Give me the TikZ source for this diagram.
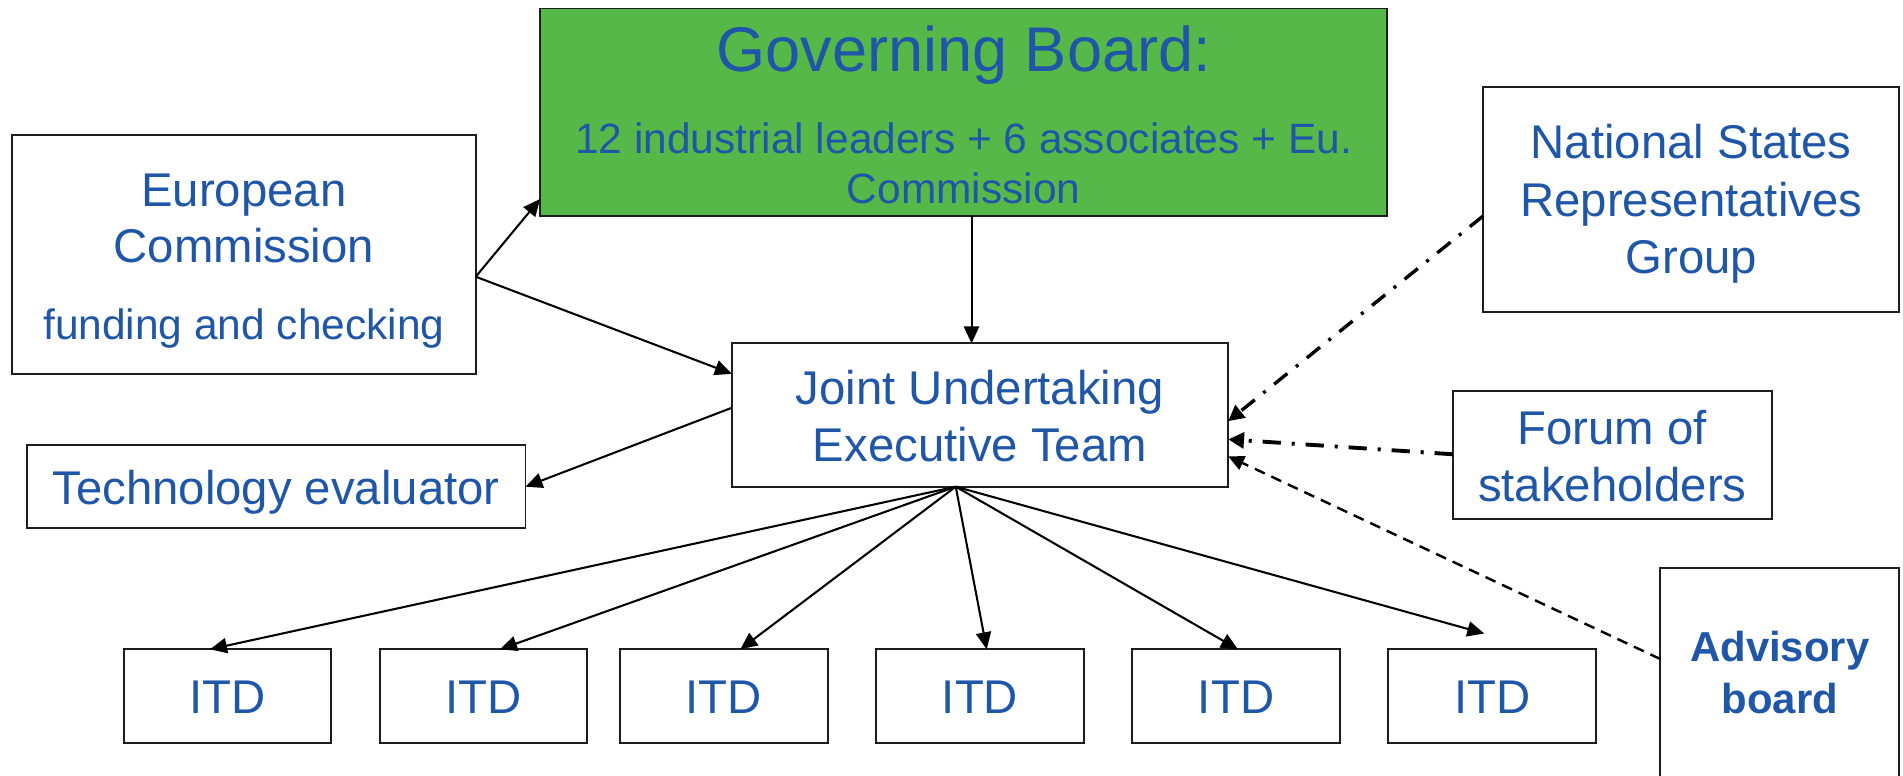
\documentclass[tikz,border=0pt]{standalone}
\usepackage{fontspec}
\setmainfont{Liberation Sans}
\usetikzlibrary{arrows.meta}
\definecolor{tblue}{RGB}{31,86,168}
\definecolor{gbgreen}{RGB}{86,184,72}
\definecolor{edgec}{RGB}{30,30,30}
\tikzset{
  box/.style={draw=edgec, line width=1.6pt, inner sep=0pt, outer sep=0pt},
  tA/.style={text=tblue, font=\fontsize{39}{47}\selectfont, anchor=base, inner sep=0pt},
  tB/.style={text=tblue, font=\fontsize{35}{42}\selectfont, anchor=base, inner sep=0pt},
  tC/.style={text=tblue, font=\fontsize{52}{62}\selectfont, anchor=base, inner sep=0pt},
  tD/.style={text=tblue, font=\fontsize{34.5}{42}\selectfont\bfseries, anchor=base, inner sep=0pt},
  conn/.style={draw=black, line width=1.7pt, -{Triangle[length=14pt,width=12.5pt]}},
  dashdotA/.style={draw=black, line width=2.8pt, dash pattern=on 14pt off 9pt on 2.5pt off 9pt, -{Triangle[length=13pt,width=13pt]}},
  dashdotB/.style={draw=black, line width=3.2pt, dash pattern=on 15pt off 9pt on 2.5pt off 9pt, -{Triangle[length=13pt,width=13pt]}},
  dashedC/.style={draw=black, line width=2pt, dash pattern=on 9pt off 6pt, -{Triangle[length=13pt,width=12pt]}},
}
\begin{document}
\begin{tikzpicture}[x=1pt,y=-1pt]
\useasboundingbox (0,0) rectangle (1568,638.6);
% boxes
\node[box, fill=gbgreen, minimum width=698pt, minimum height=171pt] (gb) at (794,92.5) {};
\node[box, minimum width=382pt, minimum height=197pt] (ec) at (201,209.5) {};
\node[box, minimum width=343pt, minimum height=185pt] (nsrg) at (1393.5,164.5) {};
\node[box, minimum width=409pt, minimum height=118pt] (ju) at (807.5,342) {};
\node[box, minimum width=263pt, minimum height=106pt] (forum) at (1328.5,375) {};
\node[box, minimum width=411pt, minimum height=68pt] (tech) at (227.5,401) {};
\node[box, minimum width=197pt, minimum height=232pt] (adv) at (1466.5,584) {};
\foreach \i/\x in {1/187.5,2/398.5,3/596.5,4/807.5,5/1018.5,6/1229.5}{
  \node[box, minimum width=171pt, minimum height=77pt] (itd\i) at (\x,573.5) {};
  \node[tA] (itdt\i) at (\x,588) {ITD};
}
% texts
\node[tC] (gbt1) at (794,59) {Governing Board:};
\node[tB] (gbt2) at (794,126.7) {12 industrial leaders + 6 associates + Eu.};
\node[tB] (gbt3) at (794,168) {Commission};
\node[tA] (ect1) at (201,170) {European};
\node[tA] (ect2) at (201,216) {Commission};
\node[tB] (ect3) at (201,280) {funding and checking};
\node[tA] (nst1) at (1393.5,131) {National States};
\node[tA] (nst2) at (1393.5,178) {Representatives};
\node[tA] (nst3) at (1393.5,225) {Group};
\node[tA] (fot1) at (1328.5,366) {Forum of};
\node[tA] (fot2) at (1328.5,413) {stakeholders};
\node[tA] (jut1) at (807.5,333) {Joint Undertaking};
\node[tA] (jut2) at (807.5,380) {Executive Team};
\node[tA] (tet1) at (227.5,416) {Technology evaluator};
\node[tD] (adt1) at (1466.5,545) {Advisory};
\node[tD] (adt2) at (1466.5,587.5) {board};
% connectors
\coordinate (ecout) at ([yshift=-18.5pt]ec.east);
\draw[conn] (ecout) -- ([yshift=-71.5pt]gb.west);
\draw[conn] (ecout) -- ([yshift=34pt]ju.west);
\draw[conn] ([xshift=6.5pt]gb.south) -- ([xshift=-7pt]ju.north);
\draw[conn] ([yshift=6pt]ju.west) -- (tech.east);
\coordinate (fan) at ([xshift=-20pt]ju.south);
\draw[conn] (fan) -- ([xshift=-14.5pt]itd1.north);
\draw[conn] (fan) -- ([xshift=13.5pt]itd2.north);
\draw[conn] (fan) -- ([xshift=13.5pt]itd3.north);
\draw[conn] (fan) -- ([xshift=5.5pt]itd4.north);
\draw[conn] (fan) -- ([xshift=1.5pt]itd5.north);
\coordinate (itd6end) at ([xshift=-6.5pt,yshift=13pt]itd6.north);
\draw[conn] (fan) -- (itd6end);
\draw[dashdotA] ([yshift=-13.5pt]nsrg.west) -- ([yshift=-5pt]ju.east);
\draw[dashdotB] ([yshift=0.7pt]forum.west) -- ([yshift=-20pt]ju.east);
\draw[dashedC] ([yshift=41pt]adv.west) -- ([yshift=-34pt]ju.east);
\end{tikzpicture}
\end{document}
